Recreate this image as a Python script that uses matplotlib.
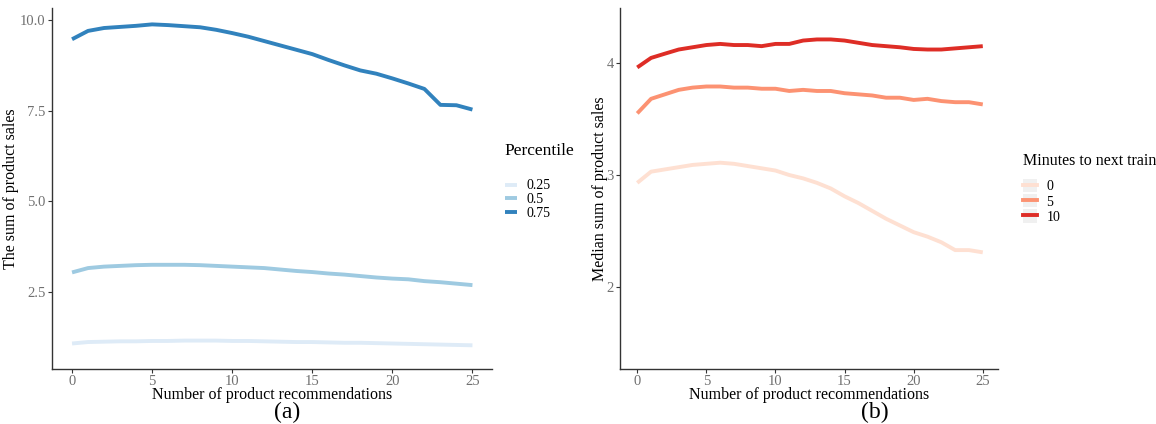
import matplotlib.pyplot as plt
import numpy as np
from matplotlib.patches import Rectangle
from matplotlib.lines import Line2D
from matplotlib.legend_handler import HandlerTuple

plt.rcParams['font.family'] = ['Liberation Serif', 'DejaVu Serif']

# 推薦数 0..25
recs = np.arange(26)

# (a) パーセンタイル別の売上合計
pct_labels = ['0.25', '0.5', '0.75']
pct_025 = [1.08, 1.12, 1.13, 1.14, 1.14, 1.15, 1.15, 1.16, 1.16, 1.16, 1.15, 1.15, 1.14,
           1.13, 1.12, 1.12, 1.11, 1.10, 1.10, 1.09, 1.08, 1.07, 1.06, 1.05, 1.04, 1.03]
pct_050 = [3.04, 3.16, 3.20, 3.22, 3.24, 3.25, 3.25, 3.25, 3.24, 3.22, 3.20, 3.18, 3.16,
           3.12, 3.08, 3.05, 3.01, 2.98, 2.94, 2.90, 2.87, 2.85, 2.80, 2.77, 2.73, 2.69]
pct_075 = [9.47, 9.70, 9.78, 9.81, 9.84, 9.88, 9.86, 9.83, 9.80, 9.73, 9.64, 9.54, 9.42,
           9.30, 9.18, 9.06, 8.90, 8.75, 8.61, 8.52, 8.39, 8.25, 8.10, 7.66, 7.65, 7.53]

# (b) 次の電車までの分数別の中央値
min_labels = ['0', '5', '10']
min_00 = [2.93, 3.03, 3.05, 3.07, 3.09, 3.10, 3.11, 3.10, 3.08, 3.06, 3.04, 3.00, 2.97,
          2.93, 2.88, 2.81, 2.75, 2.68, 2.61, 2.55, 2.49, 2.45, 2.40, 2.33, 2.33, 2.31]
min_05 = [3.55, 3.68, 3.72, 3.76, 3.78, 3.79, 3.79, 3.78, 3.78, 3.77, 3.77, 3.75, 3.76,
          3.75, 3.75, 3.73, 3.72, 3.71, 3.69, 3.69, 3.67, 3.68, 3.66, 3.65, 3.65, 3.63]
min_10 = [3.96, 4.045, 4.083, 4.12, 4.14, 4.16, 4.17, 4.16, 4.16, 4.15, 4.17, 4.17, 4.20,
          4.21, 4.21, 4.20, 4.18, 4.16, 4.15, 4.14, 4.125, 4.12, 4.12, 4.13, 4.14, 4.15]

blues = ['#deebf7', '#9ecae1', '#3182bd']
reds = ['#fee0d2', '#fc9272', '#de2d26']


def style_axes(ax):
    for s in ['top', 'right']:
        ax.spines[s].set_visible(False)
    for s in ['left', 'bottom']:
        ax.spines[s].set_color('#333333')
        ax.spines[s].set_linewidth(1.0)
    ax.tick_params(axis='both', colors='#333333', labelcolor='#707070',
                   labelsize=10.5, length=3, width=0.8, pad=1.5)
    ax.set_xticks([0, 5, 10, 15, 20, 25])


fig = plt.figure(figsize=(11.56, 4.24), dpi=100)

# (a)
ax1 = fig.add_axes([0.045, 0.130, 0.381, 0.851])
for vals, c, lab in zip([pct_025, pct_050, pct_075], blues, pct_labels):
    ax1.plot(recs, vals, color=c, lw=2.8, label=lab, solid_capstyle='butt')
ax1.set_xlim(-1.25, 26.25)
ax1.set_ylim(0.38, 10.33)
ax1.set_yticks([2.5, 5.0, 7.5, 10.0])
ax1.set_yticklabels(['2.5', '5.0', '7.5', '10.0'])
style_axes(ax1)
ax1.set_xlabel('Number of product recommendations', fontsize=11.5, labelpad=-1)
ax1.set_ylabel('The sum of product sales', fontsize=11.5, labelpad=1)
leg1 = ax1.legend(title='Percentile', loc='center left', bbox_to_anchor=(1.012, 0.52),
                  frameon=False, fontsize=10, title_fontsize=12.5, handlelength=0.9,
                  handletextpad=0.7, labelspacing=0.05, borderpad=0)
leg1._legend_box.align = 'left'
leg1._legend_box.sep = 15
fig.text(0.248, 0.028, '(a)', ha='center', va='center', fontsize=17)

# (b)
ax2 = fig.add_axes([0.5363, 0.130, 0.327, 0.851])
for vals, c, lab in zip([min_00, min_05, min_10], reds, min_labels):
    ax2.plot(recs, vals, color=c, lw=2.8, label=lab, solid_capstyle='butt')
ax2.set_xlim(-1.25, 26.1)
ax2.set_ylim(1.27, 4.49)
ax2.set_yticks([2, 3, 4])
style_axes(ax2)
ax2.set_xlabel('Number of product recommendations', fontsize=11.5, labelpad=-1)
ax2.set_ylabel('Median sum of product sales', fontsize=11.5, labelpad=-1)

# ggplot風の灰色キー背景
handles = []
for c in reds:
    bg = Rectangle((0, 0), 1, 1, facecolor='#f0f0f0', edgecolor='none')
    ln = Line2D([0], [0], color=c, lw=2.8)
    handles.append((bg, ln))
leg2 = ax2.legend(handles, min_labels, title='Minutes to next train', loc='center left',
                  bbox_to_anchor=(1.047, 0.50), frameon=False, fontsize=10,
                  title_fontsize=11.5, handlelength=1.0, handleheight=1.1,
                  handletextpad=0.7, labelspacing=0.05, borderpad=0,
                  handler_map={tuple: HandlerTuple(ndivide=1, pad=0)})
leg2._legend_box.align = 'left'
leg2._legend_box.sep = 7
fig.text(0.757, 0.028, '(b)', ha='center', va='center', fontsize=17)

fig.savefig('out.png', dpi=100, facecolor='white')
